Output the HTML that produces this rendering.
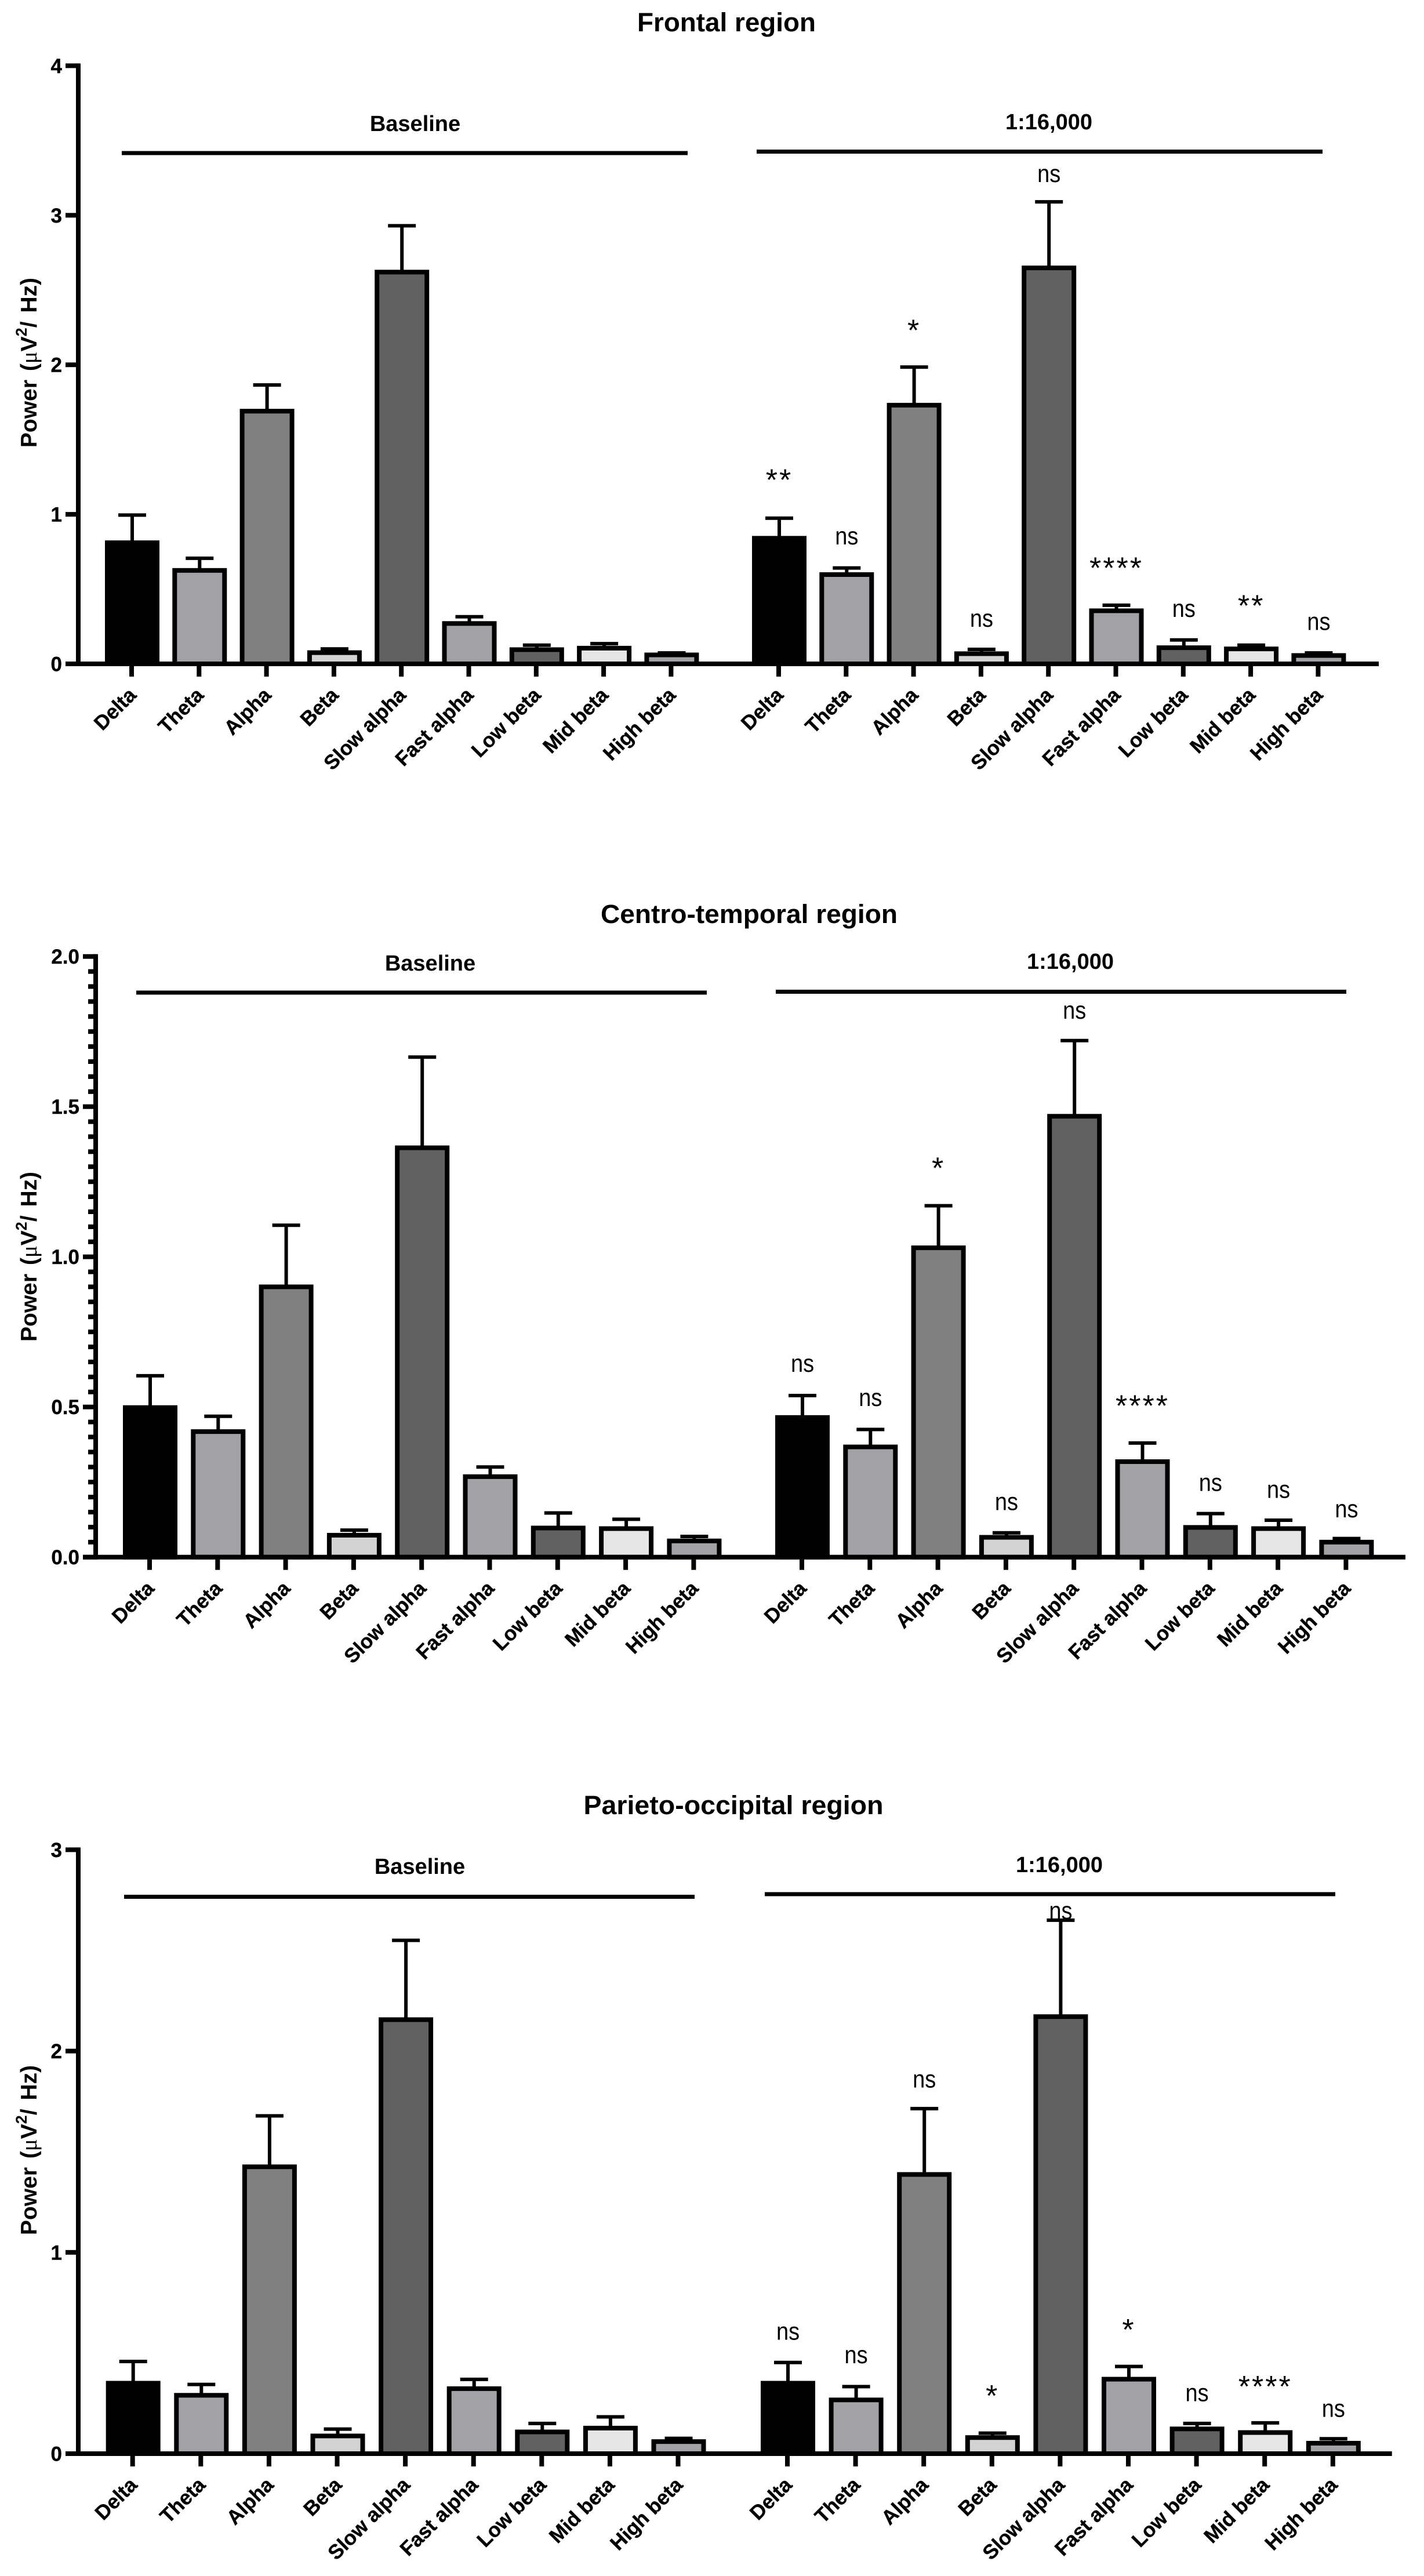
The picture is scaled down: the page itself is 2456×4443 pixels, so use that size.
<!DOCTYPE html>
<html lang="en">
<head>
<meta charset="utf-8">
<title>EEG power by region</title>
<style>
html,body{margin:0;padding:0;background:#fff;}
svg{display:block;}
text{font-family:"Liberation Sans",Arial,sans-serif;fill:#000;}
.title{font-weight:700;font-size:45px;text-anchor:middle;}
.group{font-weight:700;font-size:38px;text-anchor:middle;}
.ylab{font-weight:700;font-size:39px;word-spacing:4px;}
.tick{font-weight:700;font-size:35px;stroke:#000;stroke-width:0.4px;}
</style>
</head>
<body>
<svg id="chart" xmlns="http://www.w3.org/2000/svg" width="2456" height="4443" viewBox="0 0 2456 4443">
  <rect x="0" y="0" width="2456" height="4443" fill="#fff"/>

  <text class="title" x="1253" y="54" textLength="308" lengthAdjust="spacingAndGlyphs">Frontal region</text>
  <text class="group" x="716" y="226">Baseline</text>
  <rect x="210" y="260.5" width="976" height="7" fill="#000"/>
  <text class="group" x="1809" y="223">1:16,000</text>
  <rect x="1305" y="258" width="976" height="7" fill="#000"/>
  <text class="ylab" transform="translate(63,772) rotate(-90)">Power (<tspan font-family="Liberation Serif" font-weight="400">μ</tspan>V<tspan font-size="27" dy="-17">2</tspan><tspan dy="17">/ Hz)</tspan></text>

  <text class="title" x="1292" y="1592" textLength="512" lengthAdjust="spacingAndGlyphs">Centro-temporal region</text>
  <text class="group" x="742" y="1674">Baseline</text>
  <rect x="235" y="1708.5" width="984" height="7" fill="#000"/>
  <text class="group" x="1846" y="1671">1:16,000</text>
  <rect x="1338" y="1707" width="984" height="7" fill="#000"/>
  <text class="ylab" transform="translate(63,2314) rotate(-90)">Power (<tspan font-family="Liberation Serif" font-weight="400">μ</tspan>V<tspan font-size="27" dy="-17">2</tspan><tspan dy="17">/ Hz)</tspan></text>

  <text class="title" x="1265" y="3129" textLength="517" lengthAdjust="spacingAndGlyphs">Parieto-occipital region</text>
  <text class="group" x="724" y="3232">Baseline</text>
  <rect x="214" y="3268" width="984" height="7" fill="#000"/>
  <text class="group" x="1827" y="3229">1:16,000</text>
  <rect x="1319" y="3263.5" width="984" height="7" fill="#000"/>
  <text class="ylab" transform="translate(63,3855) rotate(-90)">Power (<tspan font-family="Liberation Serif" font-weight="400">μ</tspan>V<tspan font-size="27" dy="-17">2</tspan><tspan dy="17">/ Hz)</tspan></text>
</svg>
<script>
// Shared categories and bar fills
const bands = ["Delta","Theta","Alpha","Beta","Slow alpha","Fast alpha","Low beta","Mid beta","High beta"];
const bandFills = ["#000000","#a2a1a6","#808080","#d3d3d3","#616161","#a2a1a6","#616161","#e6e6e6","#a2a1a6"];

// Frontal region
const frontalTicks = [0,1,2,3,4];
const frontalTickLabels = ["0","1","2","3","4"];
const frontalBaseline = [0.81,0.625,1.69,0.075,2.62,0.27,0.095,0.105,0.06];
const frontalBaselineErr = [0.995,0.706,1.865,0.10,2.93,0.315,0.125,0.135,0.073];
const frontalDose = [0.84,0.597,1.73,0.068,2.648,0.355,0.108,0.10,0.056];
const frontalDoseErr = [0.974,0.641,1.985,0.097,3.09,0.392,0.16,0.125,0.073];
const frontalSig = ["**","ns","*","ns","ns","****","ns","**","ns"];
const frontalSigLevel = [1.251,0.842,2.25,0.291,3.265,0.662,0.357,0.409,0.27];

// Centro-temporal region
const centroTicks = [0,0.5,1,1.5,2];
const centroTickLabels = ["0.0","0.5","1.0","1.5","2.0"];
const centroMinorStep = [0.05];
const centroBaseline = [0.498,0.418,0.90,0.073,1.363,0.268,0.097,0.095,0.054];
const centroBaselineErr = [0.604,0.469,1.105,0.09,1.665,0.30,0.147,0.126,0.069];
const centroDose = [0.465,0.367,1.03,0.066,1.468,0.318,0.099,0.095,0.05];
const centroDoseErr = [0.538,0.425,1.17,0.081,1.72,0.38,0.145,0.123,0.062];
const centroSig = ["ns","ns","*","ns","ns","****","ns","ns","ns"];
const centroSigLevel = [0.638,0.525,1.305,0.178,1.814,0.514,0.242,0.219,0.154];

// Parieto-occipital region
const parietoTicks = [0,1,2,3];
const parietoTickLabels = ["0","1","2","3"];
const parietoBaseline = [0.35,0.29,1.425,0.088,2.156,0.323,0.108,0.127,0.06];
const parietoBaselineErr = [0.458,0.344,1.678,0.122,2.55,0.369,0.15,0.183,0.076];
const parietoDose = [0.35,0.267,1.387,0.08,2.171,0.37,0.123,0.105,0.052];
const parietoDoseErr = [0.453,0.333,1.714,0.102,2.65,0.433,0.15,0.153,0.074];
const parietoSig = ["ns","ns","ns","*","ns","*","ns","****","ns"];
const parietoSigLevel = [0.598,0.481,1.85,0.303,2.687,0.631,0.293,0.349,0.214];

const SVGNS = "http://www.w3.org/2000/svg";
const root = document.getElementById("chart");

function make(tag, attrs, parent){
  const el = document.createElementNS(SVGNS, tag);
  for (const k in attrs) el.setAttribute(k, attrs[k]);
  parent.appendChild(el);
  return el;
}

function drawAxes(region, layout, y, ticks, labels, minorStep){
  const g = make("g", {}, root);
  
  
  const top = y(ticks[ticks.length - 1]);
  const yAxis = make("rect", {x: layout.axisX - 4, y: top - 4, width: 8, height: layout.y0 - top + 8, fill: "#000"}, g);
  
  
  const xAxis = make("rect", {x: layout.axisX - 22, y: layout.y0 - 4, width: layout.axisEnd - layout.axisX + 22, height: 8, fill: "#000"}, g);
  
  
  ticks.forEach(function(t, i){
    const tickMark = make("rect", {x: layout.axisX - 22, y: y(t) - 4, width: 22, height: 8, fill: "#000"}, g);
    
    
    const lab = make("text", {class: "tick", x: layout.axisX - 28, y: y(t) + 12.5, "text-anchor": "end"}, g);
    lab.textContent = labels[i];
    
    
  });
  if (minorStep) {
    const maxV = ticks[ticks.length - 1];
    const n = Math.round(maxV / minorStep);
    for (let i = 0; i <= n; i++) {
      if (i % 10 === 0) continue;
      const minor = make("rect", {x: layout.axisX - 13, y: y(i * minorStep) - 4, width: 13, height: 8, fill: "#000"}, g);
      
      
    }
  }
}

function drawGroup(region, groupName, layout, y, xStart, values, errs, sig, sigLevel){
  const g = make("g", {}, root);
  
  
  const x = function(i){ return xStart + i * layout.step; };
  values.forEach(function(v, i){
    const cx = x(i);
    const stem = make("line", {x1: cx + 1, x2: cx + 1, y1: y(v), y2: y(errs[i]), stroke: "#000", "stroke-width": 6}, g);
    
    
    const cap = make("line", {x1: cx - 23, x2: cx + 25, y1: y(errs[i]), y2: y(errs[i]), stroke: "#000", "stroke-width": 6}, g);
    
    
    const bar = make("rect", {x: cx + 1 - 43, y: y(v), width: 86, height: layout.y0 - y(v), fill: bandFills[i], stroke: "#000", "stroke-width": 8}, g);
    
    
    const tickMark = make("rect", {x: cx - 4, y: layout.y0 + 4, width: 8, height: 18, fill: "#000"}, g);
    
    
    const bx = cx + 10, by = layout.y0 + 56;
    const lab = make("text", {class: "tick", "text-anchor": "end", transform: "translate(" + bx + "," + by + ") rotate(-45)"}, g);
    lab.textContent = bands[i];
    
    
    if (sig) {
      const isStar = sig[i].charAt(0) === "*";
      const base = y(sigLevel[i]) + (isStar ? 23 : 11);
      const attrs = isStar
        ? {"text-anchor": "middle", "font-size": 52, "letter-spacing": 3, transform: "translate(" + (cx + 1) + "," + base + ")"}
        : {"text-anchor": "middle", "font-size": 38, transform: "translate(" + (cx + 1) + "," + base + ") scale(1,1.12)"};
      const s = make("text", attrs, g);
      s.textContent = sig[i];
      
      
    }
  });
}

function drawPanel(region, layout, ticks, labels, minorStep, base, baseErr, dose, doseErr, sig, sigLevel){
  const y = function(v){ return layout.y0 - v * layout.unit; };
  drawGroup(region, 'baseline', layout, y, layout.baseStart, base, baseErr, null, null);
  drawGroup(region, 'dose', layout, y, layout.doseStart, dose, doseErr, sig, sigLevel);
  drawAxes(region, layout, y, ticks, labels, minorStep);
}

drawPanel('frontal', {y0: 1145, unit: 257.9, axisX: 135, axisEnd: 2378, step: 116.3, baseStart: 227, doseStart: 1343},
  frontalTicks, frontalTickLabels, 0, frontalBaseline, frontalBaselineErr, frontalDose, frontalDoseErr, frontalSig, frontalSigLevel);
drawPanel('centro-temporal', {y0: 2685.7, unit: 518, axisX: 165, axisEnd: 2424, step: 117.3, baseStart: 258, doseStart: 1383},
  centroTicks, centroTickLabels, centroMinorStep[0], centroBaseline, centroBaselineErr, centroDose, centroDoseErr, centroSig, centroSigLevel);
drawPanel('parieto-occipital', {y0: 4232, unit: 347.2, axisX: 135, axisEnd: 2400.7, step: 117.6, baseStart: 228.7, doseStart: 1358},
  parietoTicks, parietoTickLabels, 0, parietoBaseline, parietoBaselineErr, parietoDose, parietoDoseErr, parietoSig, parietoSigLevel);
</script>
</body>
</html>
